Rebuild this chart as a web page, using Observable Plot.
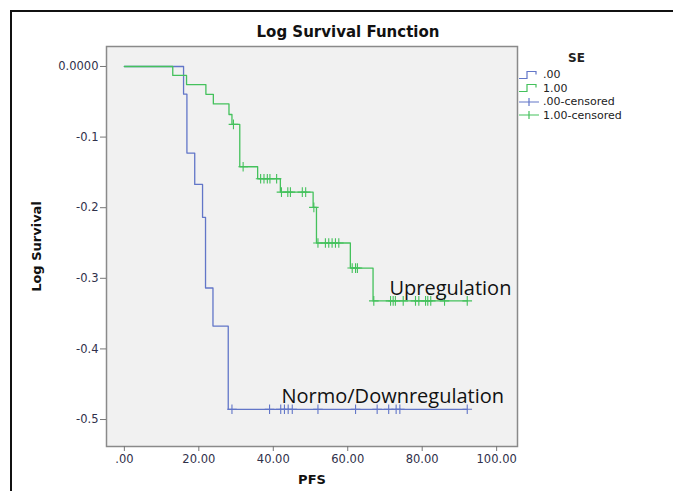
<!DOCTYPE html>
<html>
<head>
<meta charset="utf-8">
<script src="https://cdn.jsdelivr.net/npm/d3@7"></script>
<script src="https://cdn.jsdelivr.net/npm/@observablehq/plot@0.6"></script>
<style>
  html, body { margin: 0; padding: 0; background: #fff; }
  #wrap { position: relative; width: 673px; height: 491px; overflow: hidden; background: #fff; }
  #border { position: absolute; left: 10px; top: 10px; width: 700px; height: 500px; border-left: 2px solid #111; border-top: 2px solid #111; }
  #chart { position: absolute; left: 0; top: 0; }
  #legend { position: absolute; left: 518px; top: 51px; font-family: "DejaVu Sans", sans-serif; font-size: 11px; color: #222; }
  #legend .ttl { font-weight: bold; font-size: 12px; margin-left: 50px; margin-bottom: 3px; }
  #legend .row { display: flex; align-items: center; height: 13.5px; }
  #legend svg { margin-right: 3px; }
</style>
</head>
<body>
<div id="wrap">
  <div id="border"></div>
  <div id="chart"></div>
  <div id="legend"></div>
</div>
<script>
// ---- Data ----
// Group SE = .00  (Normo/Downregulation)
const normoTimes   = [0, 15.9, 16.8, 18.9, 21.0, 21.8, 23.8, 27.9, 92.1];
const normoLogSurv = [0, -0.0392, -0.1226, -0.1671, -0.2136, -0.3137, -0.3677, -0.4855, -0.4855];
const normoCensTimes = [28.9, 39.0, 42.0, 43.0, 44.0, 45.1, 52.0, 62.1, 67.9, 71.0, 73.0, 74.0, 92.1];
const normoCensLogSurv = [-0.4855, -0.4855, -0.4855, -0.4855, -0.4855, -0.4855, -0.4855, -0.4855, -0.4855, -0.4855, -0.4855, -0.4855, -0.4855];

// Group SE = 1.00 (Upregulation)
const upTimes   = [0, 13.0, 16.7, 21.9, 23.9, 28.1, 28.9, 31.0, 35.8, 41.9, 50.7, 51.6, 60.7, 66.8, 92.1];
const upLogSurv = [0, -0.0127, -0.0256, -0.0395, -0.0530, -0.0680, -0.0820, -0.1420, -0.1590, -0.1780, -0.1995, -0.2500, -0.2855, -0.3320, -0.3320];
const upCensTimes = [29.3, 31.9, 36.6, 37.5, 38.4, 39.1, 40.9, 42.2, 43.9, 44.6, 47.8, 48.7, 50.9,
                     52.0, 54.0, 54.9, 55.8, 56.7, 57.6, 61.2, 62.1, 62.6,
                     67.0, 71.5, 72.2, 72.8, 74.9, 78.2, 79.1, 80.9, 81.5, 82.3, 86.0, 92.1];
const upCensLogSurv = [-0.0820, -0.1420, -0.1590, -0.1590, -0.1590, -0.1590, -0.1590, -0.1780, -0.1780, -0.1780, -0.1780, -0.1780, -0.1995,
                       -0.2500, -0.2500, -0.2500, -0.2500, -0.2500, -0.2500, -0.2855, -0.2855, -0.2855,
                       -0.3320, -0.3320, -0.3320, -0.3320, -0.3320, -0.3320, -0.3320, -0.3320, -0.3320, -0.3320, -0.3320, -0.3320];

// Axis ticks
const xTicks = [0, 20, 40, 60, 80, 100];
const xTickLabels = [".00", "20.00", "40.00", "60.00", "80.00", "100.00"];
const yTicks = [0, -0.1, -0.2, -0.3, -0.4, -0.5];
const yTickLabels = ["0.0000", "-0.1", "-0.2", "-0.3", "-0.4", "-0.5"];

// Legend / labels
const groupNames = [".00", "1.00"];
const censNames = [".00-censored", "1.00-censored"];
const groupColors = ["#6276c8", "#44c15c"];
const annotations = [
  {t: 42.2, s: -0.477, label: "Normo/Downregulation"},
  {t: 71.2, s: -0.323, label: "Upregulation"}
];

// ---- Build tables ----
const normoLine = normoTimes.map((t, i) => ({t, s: normoLogSurv[i]}));
const upLine = upTimes.map((t, i) => ({t, s: upLogSurv[i]}));
const normoCens = normoCensTimes.map((t, i) => ({t, s: normoCensLogSurv[i]}));
const upCens = upCensTimes.map((t, i) => ({t, s: upCensLogSurv[i]}));

const font = "DejaVu Sans, sans-serif";
const tickColor = "#30304a";

const chart = Plot.plot({
  width: 673,
  height: 491,
  marginLeft: 106,
  marginRight: 156,
  marginTop: 46,
  marginBottom: 45,
  style: {fontFamily: font, background: "transparent", overflow: "visible"},
  x: {domain: [-4.8, 105.6]},
  y: {domain: [-0.5382, 0.0283]},
  marks: [
    Plot.frame({fill: "#f1f1f1", stroke: "#8a8a8a", strokeWidth: 1.5}),
    Plot.axisX(xTicks, {
      tickFormat: d => xTickLabels[xTicks.indexOf(d)],
      tickSize: 5, tickPadding: 3, fontSize: 11.5, color: tickColor, stroke: "#777", label: null
    }),
    Plot.axisY(yTicks, {
      tickFormat: d => yTickLabels[yTicks.indexOf(d)],
      tickSize: 6, tickPadding: 2, fontSize: 11.5, color: tickColor, stroke: "#777", label: null
    }),
    Plot.line(normoLine, {x: "t", y: "s", curve: "step-after", stroke: groupColors[0], strokeWidth: 1.3}),
    Plot.line(upLine, {x: "t", y: "s", curve: "step-after", stroke: groupColors[1], strokeWidth: 1.3}),
    Plot.dot(normoCens, {x: "t", y: "s", symbol: "plus", r: 3.2, stroke: groupColors[0], strokeWidth: 1.1}),
    Plot.dot(upCens, {x: "t", y: "s", symbol: "plus", r: 3.2, stroke: groupColors[1], strokeWidth: 1.1}),
    Plot.text(annotations, {x: "t", y: "s", text: "label", textAnchor: "start", lineAnchor: "bottom",
      fontFamily: "Open Sans, sans-serif", fontSize: 20, fill: "#111"}),
    Plot.text(["Log Survival Function"], {frameAnchor: "top", textAnchor: "middle", lineAnchor: "middle",
      dx: 36, dy: -14, fontWeight: "bold", fontSize: 15, fill: "#111"}),
    Plot.text(["PFS"], {frameAnchor: "bottom", textAnchor: "middle", lineAnchor: "middle",
      dy: 33, fontWeight: "bold", fontSize: 13, fill: "#111"}),
    Plot.text(["Log Survival"], {frameAnchor: "left", textAnchor: "middle", lineAnchor: "middle",
      dx: -70, rotate: -90, fontWeight: "bold", fontSize: 13, fill: "#111"})
  ]
});
document.getElementById("chart").appendChild(chart);

// ---- Legend ----
const legend = document.getElementById("legend");
let html = '<div class="ttl">SE</div>';
groupNames.forEach((name, i) => {
  html += `<div class="row"><svg width="22" height="10"><path d="M1,8.5H9V1.5H18V4.5" fill="none" stroke="${groupColors[i]}" stroke-width="1.2"/></svg><span>${name}</span></div>`;
});
censNames.forEach((name, i) => {
  html += `<div class="row"><svg width="22" height="10"><path d="M1,5H21M11,1V9" fill="none" stroke="${groupColors[i]}" stroke-width="1.2"/></svg><span>${name}</span></div>`;
});
legend.innerHTML = html;
</script>
</body>
</html>
